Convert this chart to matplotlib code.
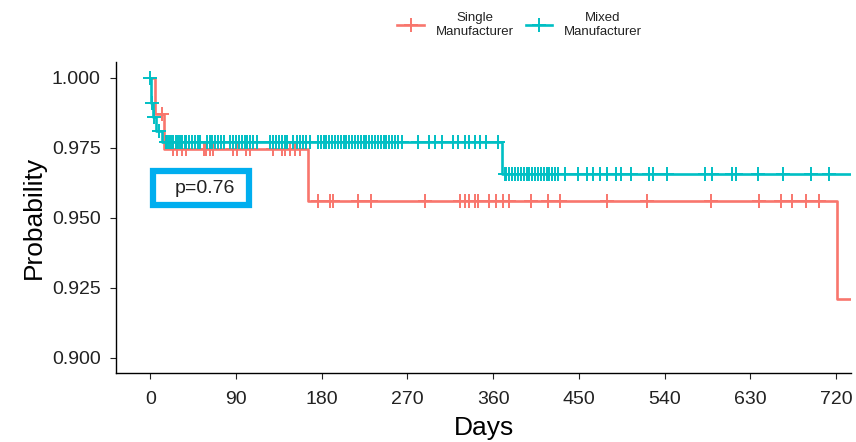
import numpy as np
import matplotlib
matplotlib.use("Agg")
from matplotlib import pyplot as plt
from matplotlib.lines import Line2D
from matplotlib.patches import Rectangle

plt.rcParams['font.family'] = ['Liberation Sans', 'DejaVu Sans']

red = "#F8766D"
teal = "#00BFC4"

# Kaplan-Meier steps (time, survival)
single_t = [0, 5, 14, 166, 721, 740]
single_s = [1.0, 0.987, 0.9745, 0.956, 0.921, 0.921]
mixed_t = [0, 1, 3, 6, 12, 369, 740]
mixed_s = [1.0, 0.991, 0.986, 0.981, 0.977, 0.9655, 0.9655]

# censoring times
single_cens = [12, 24, 28, 33, 37, 56, 59, 63, 66, 87, 91, 101, 105, 129, 138, 141,
               147, 152, 157, 176, 189, 192, 218, 232, 288, 325, 330, 335, 341, 344,
               356, 363, 370, 377, 400, 418, 430, 479, 522, 589, 639, 662, 674, 688, 702]
mixed_cens = [0, 2, 4, 9, 16, 18, 20, 22, 24, 27, 29, 31, 33, 36, 38, 41, 44, 47, 50, 52,
              60, 63, 65, 68, 71, 74, 77, 84, 87, 90, 93, 96, 99, 102, 105, 108, 112,
              126, 129, 132, 135, 138, 141, 144, 150, 154, 157, 160, 164, 168,
              176, 179, 182, 185, 188, 191, 194, 197, 200, 203, 206, 209, 212, 215,
              218, 221, 224, 227, 230, 233, 236, 239, 242, 245, 248, 251, 254, 257,
              260, 264, 281, 293, 299, 306, 318, 323, 330, 335, 341, 346, 353, 365,
              372, 374, 377, 380, 383, 386, 389, 392, 395, 398, 401, 404, 407, 410,
              413, 416, 419, 422, 425, 428, 435, 449, 459, 465, 472, 479, 489, 494,
              505, 524, 528, 543, 582, 590, 611, 615, 638, 664, 694, 713]

xticks = [0, 90, 180, 270, 360, 450, 540, 630, 720]
yticks = [0.900, 0.925, 0.950, 0.975, 1.000]


def surv_at(times, surv, x):
    idx = np.searchsorted(times, x, side='right') - 1
    return np.array(surv)[idx]


fig = plt.figure(figsize=(8.56, 4.42), dpi=100)
ax = fig.add_axes([0.1355, 0.156, 0.859, 0.704])

for t, s, c, col in [(single_t, single_s, single_cens, red), (mixed_t, mixed_s, mixed_cens, teal)]:
    ax.step(t, s, where='post', color=col, lw=1.9)
    ax.plot(c, surv_at(t, s, c), ls='none', marker='+', ms=10, mew=1.4, color=col)

# p-value box
ax.add_patch(Rectangle((3, 0.9545), 101, 0.0121, fc='white', ec='#00AEEF', lw=4.5, zorder=5))
ax.text(57, 0.9604, "p=0.76", ha='center', va='center', fontsize=14, color='#222222', zorder=6)

ax.set_xlim(-36, 736)
ax.set_ylim(0.8946, 1.0057)
ax.set_xticks(xticks)
ax.set_yticks(yticks)
ax.set_yticklabels([f"{v:.3f}" for v in yticks])
ax.tick_params(labelsize=14, length=4, width=0.8, colors='#222222')
ax.tick_params(axis='x', pad=9)
ax.tick_params(axis='y', pad=7)
for side in ['top', 'right']:
    ax.spines[side].set_visible(False)
for side in ['left', 'bottom']:
    ax.spines[side].set_linewidth(1.0)
ax.set_xlabel("Days", fontsize=19, labelpad=6)
ax.set_ylabel("Probability", fontsize=19, labelpad=4)

handles = [Line2D([], [], color=red, marker='+', ms=10, mew=1.4, lw=1.9),
           Line2D([], [], color=teal, marker='+', ms=10, mew=1.4, lw=1.9)]
leg = fig.legend(handles, ["Single\nManufacturer", "Mixed\nManufacturer"], loc='upper center',
                 bbox_to_anchor=(0.607, 1.0), ncol=2, frameon=False, fontsize=9.5,
                 handlelength=2.0, columnspacing=0.9, handletextpad=0.9)
for txt in leg.get_texts():
    txt.set_multialignment('center')
    txt.set_color('#222222')

fig.savefig("out.png", dpi=100)
